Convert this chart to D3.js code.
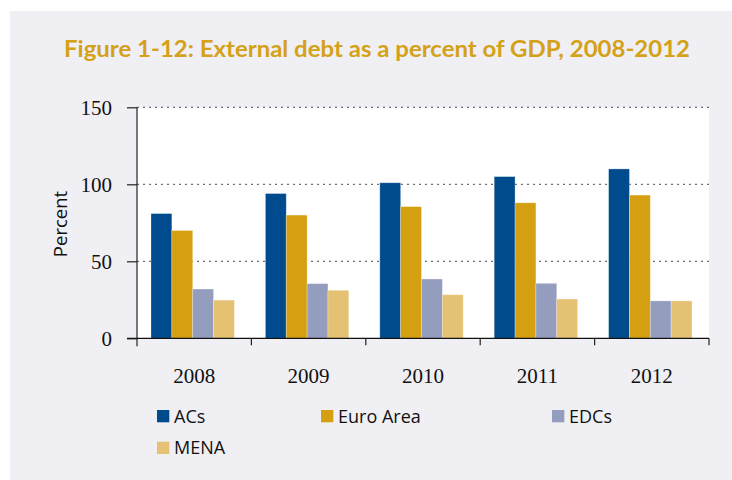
<!DOCTYPE html>
<html>
<head>
<meta charset="utf-8">
<script src="https://cdn.jsdelivr.net/npm/d3@7"></script>
<style>
  html, body { margin: 0; padding: 0; background: #ffffff; }
  svg { display: block; }
</style>
</head>
<body>
<svg id="chart" width="732" height="480"></svg>
<script>
const years = ["2008", "2009", "2010", "2011", "2012"];
const seriesNames = ["ACs", "Euro Area", "EDCs", "MENA"];
const acs = [81, 94, 101, 105, 110];
const euroArea = [70, 80, 85.5, 88, 93];
const edcs = [32, 35.5, 38.5, 35.7, 24.3];
const mena = [24.8, 31.2, 28.3, 25.5, 24.3];
const seriesColors = ["#004b8d", "#d49f10", "#949dbd", "#e5c174"];
const yTicks = [0, 50, 100, 150];
const titleText = "Figure 1-12: External debt as a percent of GDP, 2008-2012";

const seriesValues = [acs, euroArea, edcs, mena];
const data = years.map((yr, i) => ({ year: yr, values: seriesValues.map((s, j) => ({ name: seriesNames[j], value: s[i], idx: j })) }));

const svg = d3.select("#chart");
// outer panel
svg.append("rect").attr("x", 10).attr("y", 11).attr("width", 722).attr("height", 469).attr("fill", "#efeff4");

// title
svg.append("text")
  .attr("x", 64).attr("y", 57)
  .attr("textLength", 626).attr("lengthAdjust", "spacingAndGlyphs")
  .attr("font-family", "Lato, 'Open Sans', sans-serif")
  .attr("font-weight", "bold").attr("font-size", 23)
  .attr("fill", "#d4a117")
  .text(titleText);

const pLeft = 137, pRight = 709, pTop = 107.3, pBottom = 338.3;

const x = d3.scaleBand().domain(years).range([pLeft, pRight]).paddingInner(0).paddingOuter(0);
const x1 = d3.scaleBand().domain(seriesNames).range([15.5, x.bandwidth() - 15.5]).padding(0);
const y = d3.scaleLinear().domain([0, 150]).range([pBottom, pTop]);

// plot background
svg.append("rect").attr("x", pLeft).attr("y", pTop).attr("width", pRight - pLeft).attr("height", pBottom - pTop).attr("fill", "#ffffff");

// gridlines
svg.append("g").selectAll("line").data(yTicks.filter(d => d > 0)).join("line")
  .attr("x1", pLeft).attr("x2", pRight)
  .attr("y1", d => y(d)).attr("y2", d => y(d))
  .attr("stroke", "#6e6e6e").attr("stroke-width", 1.3)
  .attr("stroke-dasharray", "2,4");

// bars
const groups = svg.append("g").selectAll("g").data(data).join("g")
  .attr("transform", d => `translate(${x(d.year) - 1.5},0)`);
groups.selectAll("rect").data(d => d.values).join("rect")
  .attr("x", d => x1(d.name))
  .attr("y", d => y(d.value))
  .attr("width", x1.bandwidth())
  .attr("height", d => y(0) - y(d.value))
  .attr("fill", d => seriesColors[d.idx])
  .attr("stroke", "rgba(255,255,255,0.35)").attr("stroke-width", 0.8);

// y axis
const yAxis = d3.axisLeft(y).tickValues(yTicks).tickSize(10).tickPadding(15);
const gy = svg.append("g").attr("transform", `translate(${pLeft},0)`).call(yAxis);
gy.select(".domain").remove();
gy.selectAll(".tick line").attr("stroke", "#222").attr("stroke-width", 1.2);
gy.selectAll(".tick text")
  .attr("font-family", "'Liberation Serif', 'Times New Roman', serif")
  .attr("font-size", 21).attr("fill", "#111").attr("dy", "0.33em");
svg.append("line").attr("x1", pLeft).attr("x2", pLeft).attr("y1", pTop).attr("y2", pBottom + 8)
  .attr("stroke", "#222").attr("stroke-width", 1.2);

// x axis
const xTickPos = d3.range(years.length + 1).map(i => pLeft + i * x.step());
svg.append("line").attr("x1", pLeft - 10).attr("x2", pRight).attr("y1", pBottom).attr("y2", pBottom)
  .attr("stroke", "#111").attr("stroke-width", 1.3);
svg.append("g").selectAll("line").data(xTickPos.slice(1)).join("line")
  .attr("x1", d => d).attr("x2", d => d).attr("y1", pBottom).attr("y2", pBottom + 7)
  .attr("stroke", "#222").attr("stroke-width", 1.2);
svg.append("g").selectAll("text").data(years).join("text")
  .attr("x", d => x(d) + x.bandwidth() / 2)
  .attr("y", 382.5)
  .attr("text-anchor", "middle")
  .attr("font-family", "'Liberation Serif', 'Times New Roman', serif")
  .attr("font-size", 21).attr("fill", "#111")
  .text(d => d);

// y label
svg.append("text")
  .attr("transform", "translate(67,224) rotate(-90)")
  .attr("text-anchor", "middle")
  .attr("font-family", "'Open Sans', sans-serif")
  .attr("font-size", 18.5).attr("fill", "#111")
  .text("Percent");

// legend
const legendPos = [[157, 410], [321, 410], [552, 410], [157, 441.7]];
const lg = svg.append("g").selectAll("g").data(seriesNames).join("g")
  .attr("transform", (d, i) => `translate(${legendPos[i][0]},${legendPos[i][1]})`);
lg.append("rect").attr("width", 12.3).attr("height", 12.3).attr("fill", (d, i) => seriesColors[i]);
lg.append("text").attr("x", 17).attr("y", 12.5)
  .attr("font-family", "'Open Sans', sans-serif")
  .attr("font-size", 18).attr("fill", "#111")
  .text(d => d);
</script>
</body>
</html>
